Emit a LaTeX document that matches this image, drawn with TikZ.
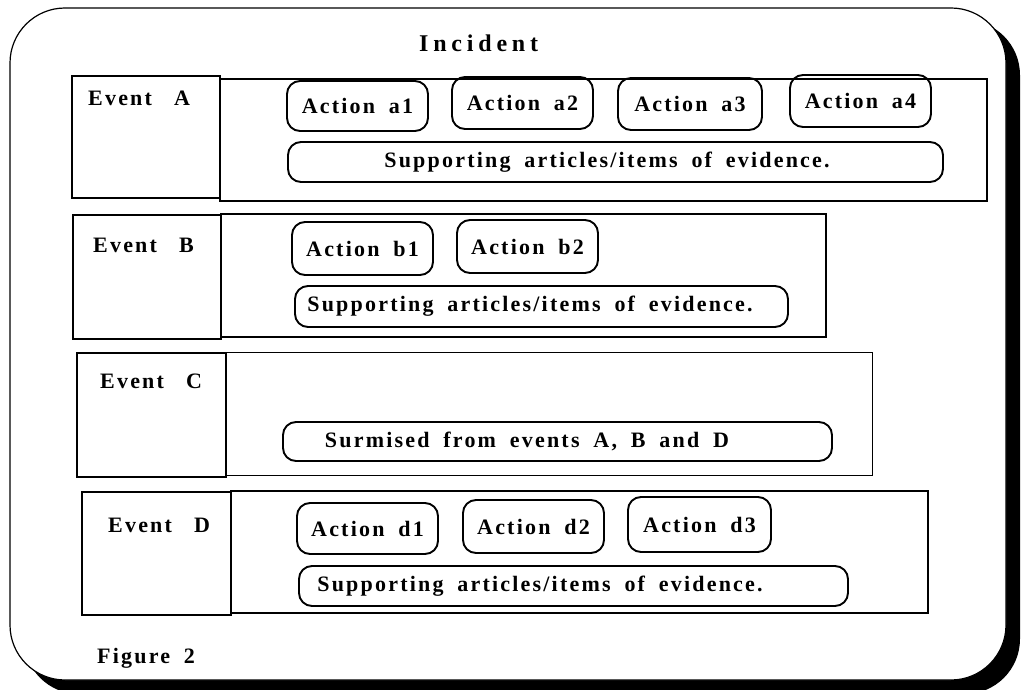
\documentclass[tikz,border=0pt]{standalone}
\usepackage{fontspec}
\setmainfont{Liberation Serif}
\newfontfamily\spaced[LetterSpace=10,WordSpace=1.8]{Liberation Serif}
\newfontfamily\widesp[LetterSpace=20]{Liberation Serif}
\begin{document}
\begin{tikzpicture}[x=1pt,y=-1pt,
  txt/.style={font={\spaced\bfseries\fontsize{22}{26}\selectfont}, inner sep=0pt},
  evbox/.style={draw, line width=2pt, inner sep=0pt},
  contbox/.style={draw, line width=1.3pt, inner sep=0pt},
  act/.style={draw, line width=1.9pt, rounded corners=13pt, inner sep=0pt,
    font={\spaced\bfseries\fontsize{22}{26}\selectfont}},
  sup/.style={draw, line width=1.9pt, rounded corners=13pt, inner sep=0pt}]
\path[use as bounding box] (0,0) rectangle (1021,690);
% outer frame with shadow
\fill[black, rounded corners=55pt] (24,20) rectangle (1020,694);
\filldraw[fill=white, draw=black, line width=1.2pt, rounded corners=55pt] (10,8) rectangle (1006,680);

\node[txt, font={\widesp\bfseries\fontsize{24}{28}\selectfont}, anchor=base west] (inc) at (419,52) {Incident};

% Row A
\draw[contbox] (220,79) rectangle (987,201);
\draw[evbox] (72,76) rectangle (220,198);
\node[txt, anchor=base west] (evA) at (88,106) {Event\hspace{22pt}A};
\node[act, minimum width=141pt, minimum height=50pt] (a1) at (357.5,106) {Action a1};
\node[act, minimum width=141pt, minimum height=52pt] (a2) at (522.5,103) {Action a2};
\node[act, minimum width=144pt, minimum height=52pt] (a3) at (690,104) {Action a3};
\node[act, minimum width=141pt, minimum height=52pt] (a4) at (860.5,101) {Action a4};
\node[sup, minimum width=655pt, minimum height=40pt] (sa) at (615.5,162) {};
\node[txt] (saT) at (607,162) {Supporting articles/items of evidence.};

% Row B
\draw[contbox] (221,214) rectangle (826,337);
\draw[evbox] (73,215) rectangle (221,339);
\node[txt, anchor=base west] (evB) at (93,252) {Event\hspace{22pt}B};
\node[act, minimum width=141pt, minimum height=53pt] (b1) at (362.5,248.5) {Action b1};
\node[act, minimum width=141pt, minimum height=53pt] (b2) at (527.5,246.5) {Action b2};
\node[sup, minimum width=493pt, minimum height=41pt] (sb) at (541.5,306.5) {};
\node[txt] (sbT) at (530,306.5) {Supporting articles/items of evidence.};

% Row C
\draw[contbox, line width=1pt] (226,352) rectangle (872,475);
\draw[evbox] (77,353) rectangle (226,477);
\node[txt, anchor=base west] (evC) at (100,388) {Event\hspace{22pt}C};
\node[sup, minimum width=549pt, minimum height=39pt] (sc) at (557.5,441.5) {};
\node[txt] (scT) at (527,441.5) {Surmised from events A, B and D};

% Row D
\draw[contbox] (231,491) rectangle (928,613);
\draw[evbox] (82,492) rectangle (231,615);
\node[txt, anchor=base west] (evD) at (108,532) {Event\hspace{22pt}D};
\node[act, minimum width=141pt, minimum height=51pt] (d1) at (367.5,528.5) {Action d1};
\node[act, minimum width=141pt, minimum height=53pt] (d2) at (533.5,526.5) {Action d2};
\node[act, minimum width=143pt, minimum height=55pt] (d3) at (699.5,524.5) {Action d3};
\node[sup, minimum width=549pt, minimum height=40pt] (sd) at (573.5,586) {};
\node[txt] (sdT) at (540,586) {Supporting articles/items of evidence.};

\node[txt, anchor=base west] (fig) at (97,663) {Figure 2};
\end{tikzpicture}
\end{document}
